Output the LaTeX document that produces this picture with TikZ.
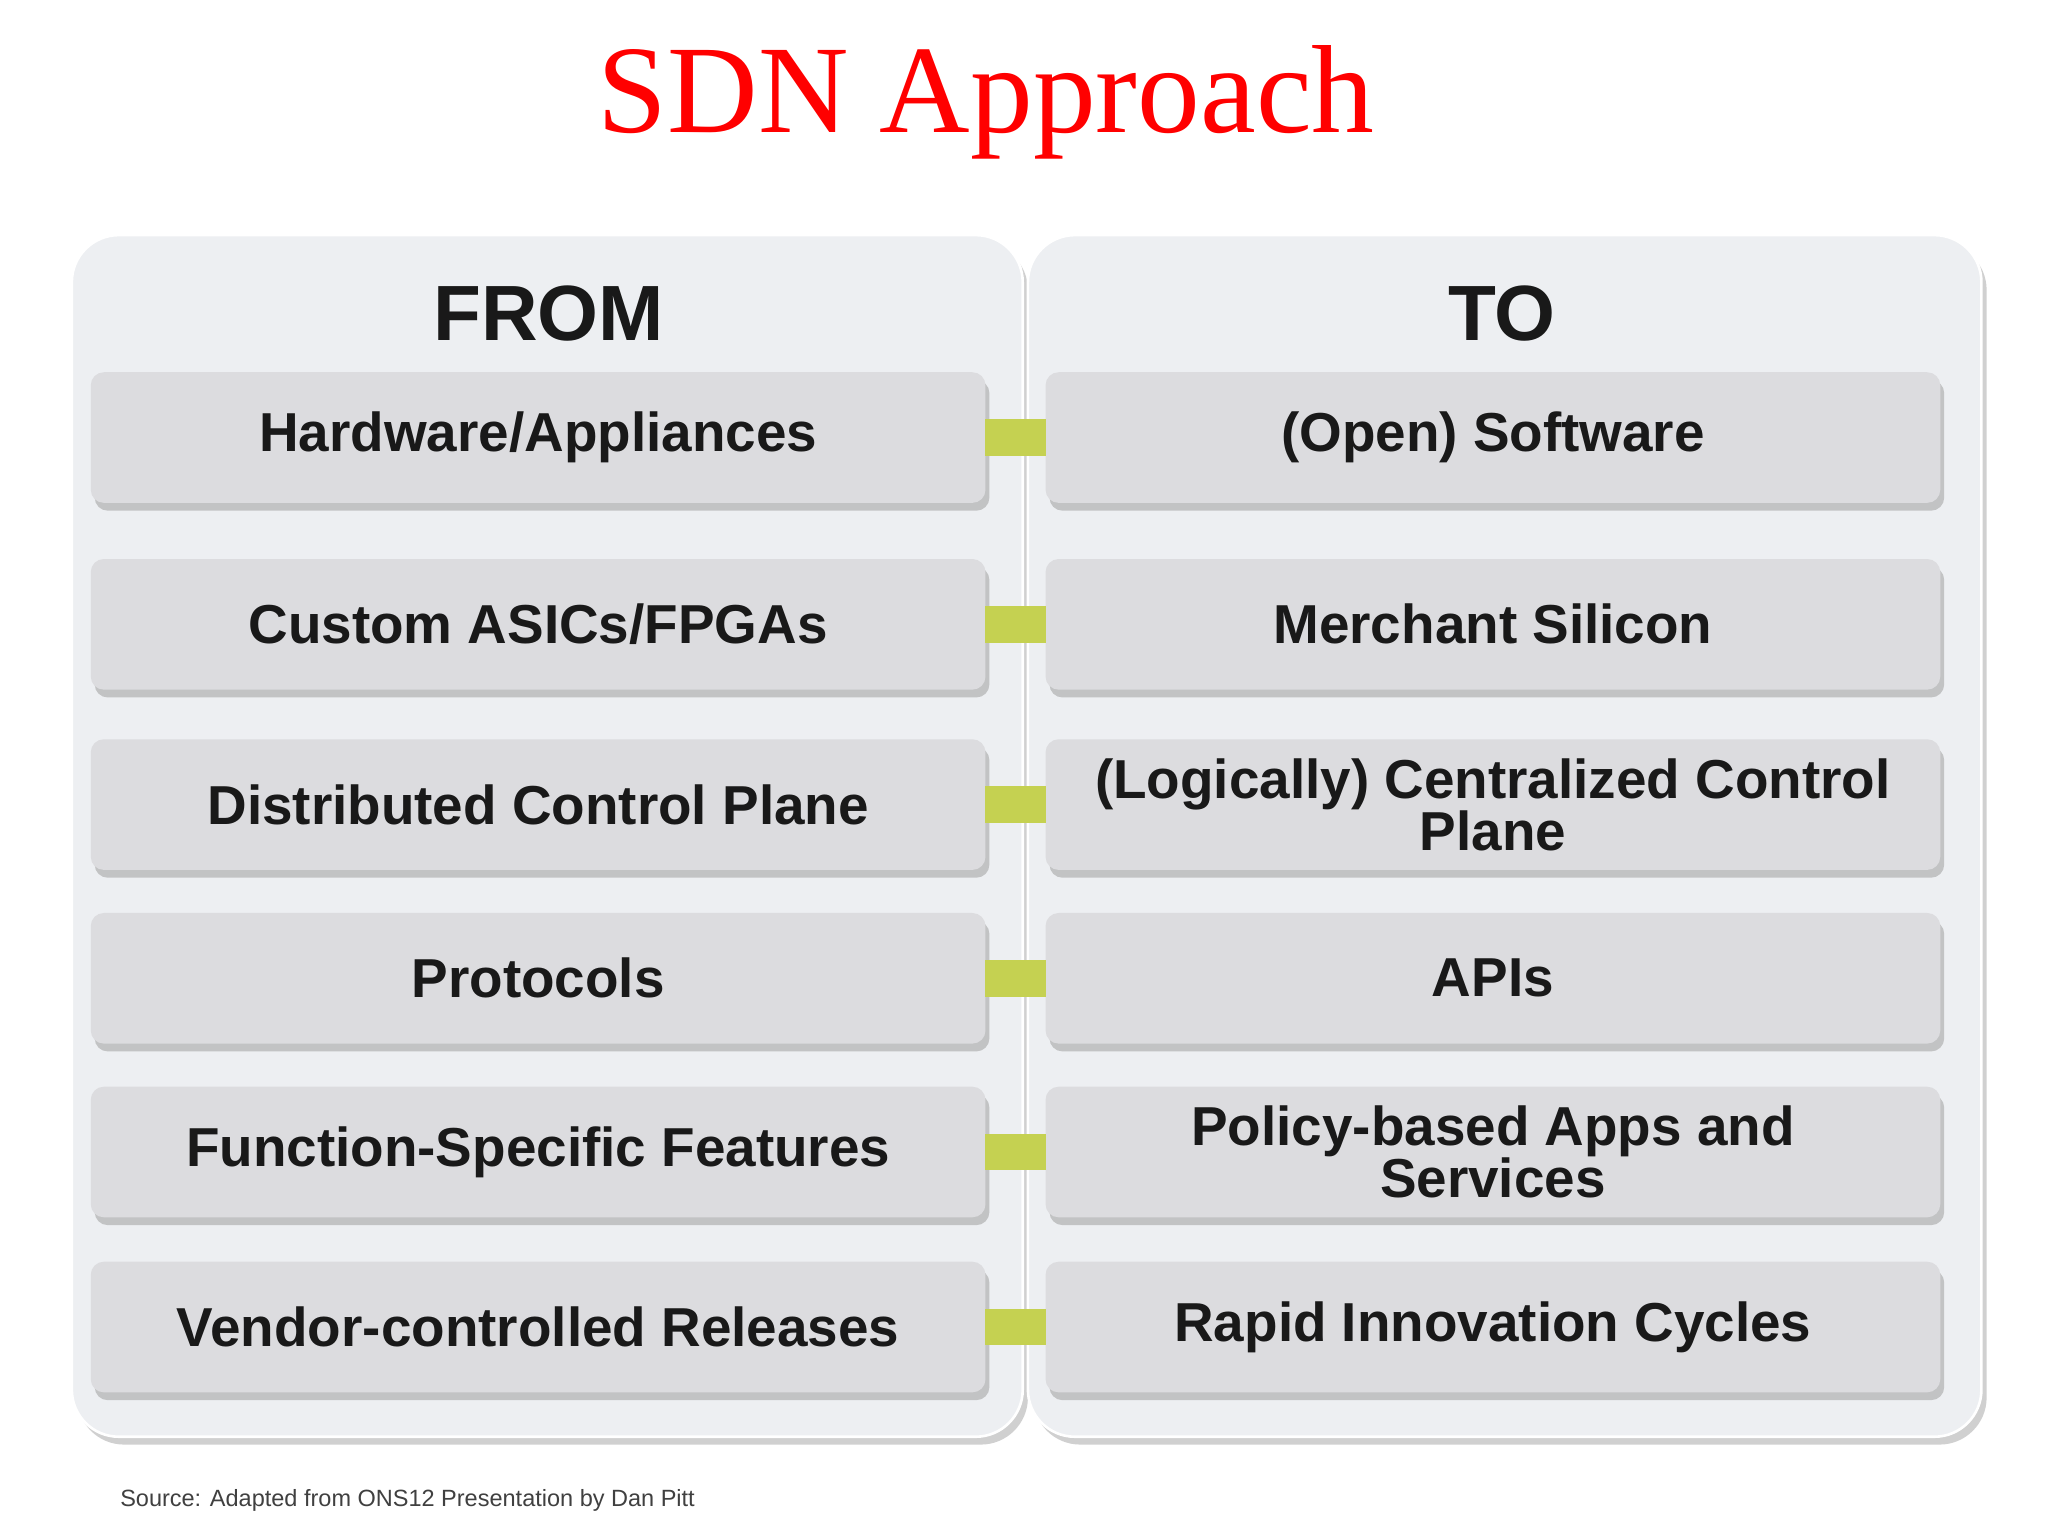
\documentclass[tikz,border=0pt]{standalone}
\usepackage{fontspec}
\setmainfont{Liberation Sans}
\newfontfamily\titlefont{Liberation Serif}
\usetikzlibrary{shadows,calc}
\definecolor{panel}{HTML}{EDEFF2}
\definecolor{boxc}{HTML}{DCDCDF}
\definecolor{link}{HTML}{C5D151}
\tikzset{
 panelbox/.style={rounded corners=18pt, fill=panel, draw=white, line width=1pt, drop shadow={shadow xshift=2pt, shadow yshift=-3pt, fill=black!30, opacity=0.6}},
 itembox/.style={rounded corners=5pt, fill=boxc, minimum width=342.5pt, minimum height=50pt, align=center, font=\fontsize{21}{20}\selectfont\bfseries, text=black!90, drop shadow={shadow xshift=1.5pt, shadow yshift=-3pt, fill=black!35, opacity=0.6}},
 linkbar/.style={fill=link, minimum width=23pt, minimum height=14pt, inner sep=0pt},
 head/.style={font=\fontsize{30}{30}\selectfont\bfseries, text=black!90}
}
\begin{document}
\begin{tikzpicture}[x=0.5pt,y=-0.5pt]
\useasboundingbox[fill=white] (0,0) rectangle (1568,1176);
\node (title) at (755,78) {\titlefont\fontsize{48}{48}\selectfont\color{red}SDN Approach};
\path[panelbox] (55,180) rectangle (783,1100);
\path[panelbox] (787,180) rectangle (1517,1100);
\node[head] (from) at (420,240) {FROM};
\node[head] (to) at (1150,240) {TO};
\foreach \n/\y/\l/\r in {1/335/{Hardware/Appliances}/{(Open) Software},
 2/478/{Custom ASICs/FPGAs}/{Merchant Silicon},
 3/616/{Distributed Control Plane}/{(Logically) Centralized Control\\Plane},
 4/749/{Protocols}/{APIs},
 5/882/{Function-Specific Features}/{Policy-based Apps and\\Services},
 6/1016/{Vendor-controlled Releases}/{Rapid Innovation Cycles}}{
 \node[itembox] (L\n) at (412,\y) {\l};
 \node[itembox] (R\n) at (1143,\y) {\r};
 \node[linkbar] (k\n) at ($(L\n.east)!0.5!(R\n.west)$) {};
}
\node[anchor=west, font=\fontsize{9}{9}\selectfont, text=black!75] (src) at (85,1149) {Source: Adapted from ONS12 Presentation by Dan Pitt};
\end{tikzpicture}
\end{document}
